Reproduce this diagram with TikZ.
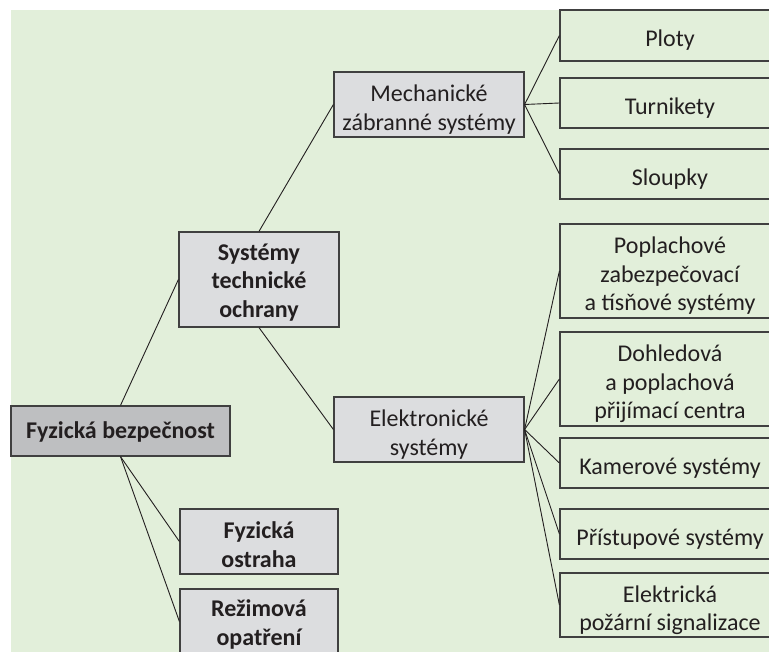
\documentclass[tikz,border=0pt]{standalone}
\usepackage{fontspec}
\setmainfont{Carlito}
\definecolor{bggreen}{RGB}{226,239,218}
\definecolor{boxlight}{RGB}{220,221,223}
\definecolor{boxdark}{RGB}{190,191,193}
\definecolor{edge}{RGB}{64,64,64}
\definecolor{ink}{RGB}{35,31,32}
\tikzset{
  box/.style={draw=edge, line width=1.2pt, rectangle, inner sep=0pt},
  lbox/.style={box, fill=boxlight},
  dbox/.style={box, fill=boxdark},
  rbox/.style={box, minimum width=220pt},
  txt/.style={inner sep=0pt, align=center, text=ink, font=\fontsize{24}{28.5}\selectfont},
  btxt/.style={txt, font=\fontsize{24}{28.5}\selectfont\bfseries},
  conn/.style={draw=ink, line width=0.9pt}
}
\begin{document}
\begin{tikzpicture}[x=1pt,y=-1pt]
\useasboundingbox (0,0) rectangle (769,652);
\clip (0,0) rectangle (769,652);
\fill[white] (0,0) rectangle (769,652);
\fill[bggreen] (11,10) rectangle (790,670);

% left column
\node[dbox, minimum width=219pt, minimum height=50pt] (fb) at (120.5,431) {};
\node[lbox, minimum width=160pt, minimum height=95pt] (sto) at (259,279.5) {};
\node[lbox, minimum width=158pt, minimum height=65pt] (fo) at (259,541.5) {};
\node[lbox, minimum width=158pt, minimum height=65pt] (ro) at (259,621.5) {};

% middle column
\node[lbox, minimum width=190pt, minimum height=65pt] (mech) at (429,104.5) {};
\node[lbox, minimum width=190pt, minimum height=65pt] (elek) at (429,429.5) {};

% right column
\node[rbox, minimum height=51pt] (ploty) at (670,35.5) {};
\node[rbox, minimum height=50pt] (turn) at (670,103) {};
\node[rbox, minimum height=50pt] (slou) at (670,174) {};
\node[rbox, minimum height=94pt] (popl) at (670,271) {};
\node[rbox, minimum height=94pt] (dohl) at (670,379) {};
\node[rbox, minimum height=50pt] (kam) at (670,463) {};
\node[rbox, minimum height=50pt] (pris) at (670,534) {};
\node[rbox, minimum height=64pt] (elp) at (670,605) {};

% texts
\node[btxt] (fb-t) at ([yshift=-1pt]fb.center) {Fyzická bezpečnost};
\node[btxt] (sto-t) at ([yshift=-3pt]sto.center) {Systémy\\technické\\ochrany};
\node[btxt] (fo-t) at ([yshift=-3pt]fo.center) {Fyzická\\ostraha};
\node[btxt] (ro-t) at ([yshift=-3pt]ro.center) {Režimová\\opatření};
\node[txt] (mech-t) at ([yshift=-5pt]mech.center) {Mechanické\\zábranné systémy};
\node[txt] (elek-t) at ([yshift=-5pt]elek.center) {Elektronické\\systémy};
\node[txt] (ploty-t) at ([yshift=-5pt]ploty.center) {Ploty};
\node[txt] (turn-t) at ([yshift=-5pt]turn.center) {Turnikety};
\node[txt] (slou-t) at ([yshift=-5pt]slou.center) {Sloupky};
\node[txt] (popl-t) at ([yshift=-5pt]popl.center) {Poplachové\\zabezpečovací\\a tísňové systémy};
\node[txt] (dohl-t) at ([yshift=-5pt]dohl.center) {Dohledová\\a poplachová\\přijímací centra};
\node[txt] (kam-t) at ([yshift=-5pt]kam.center) {Kamerové systémy};
\node[txt] (pris-t) at ([yshift=-5pt]pris.center) {Přístupové systémy};
\node[txt] (elp-t) at ([yshift=-5pt]elp.center) {Elektrická\\požární signalizace};

% connectors
\draw[conn] (fb.north) -- (sto.west);
\draw[conn] (fb.south) -- (fo.west);
\draw[conn] (fb.south) -- (ro.west);
\draw[conn] (sto.north) -- (mech.west);
\draw[conn] (sto.south) -- (elek.west);
\foreach \t in {ploty,turn,slou} \draw[conn] (mech.east) -- (\t.west);
\foreach \t in {popl,dohl,kam,pris,elp} \draw[conn] (elek.east) -- (\t.west);
\end{tikzpicture}
\end{document}
